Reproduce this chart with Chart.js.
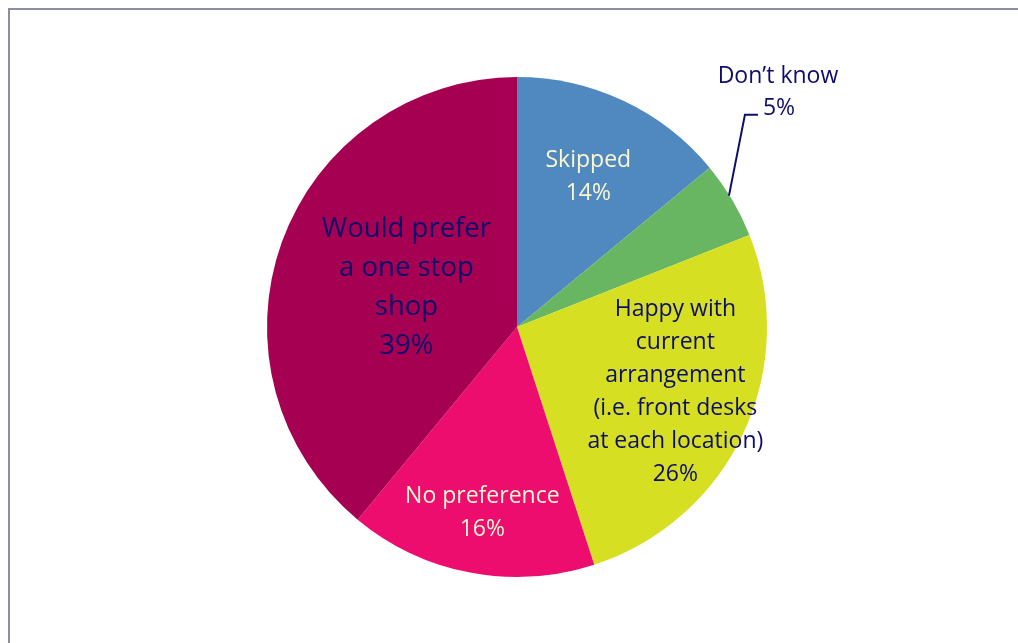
<!DOCTYPE html>
<html>
<head>
<meta charset="utf-8">
<script src="https://cdn.jsdelivr.net/npm/chart.js@4.4.1/dist/chart.umd.min.js"></script>
<style>
  html, body { margin: 0; padding: 0; background: #ffffff; }
  #wrap { width: 1018px; height: 643px; position: relative; }
</style>
</head>
<body>
<div id="wrap"><canvas id="pie" width="1018" height="643"></canvas></div>
<script>
// Survey responses: preferred front-desk arrangement
const categories = [
  'Skipped',
  'Don\u2019t know',
  'Happy with current arrangement (i.e. front desks at each location)',
  'No preference',
  'Would prefer a one stop shop'
];
const shares = [14, 5, 26, 16, 39];
const labelLines = [
  ['Skipped'],
  ['Don\u2019t know'],
  ['Happy with', 'current', 'arrangement', '(i.e. front desks', 'at each location)'],
  ['No preference'],
  ['Would prefer', 'a one stop', 'shop']
];
const sliceColors = ['#4F89C0', '#69B662', '#D7DF23', '#EC0D6F', '#A50052'];

// Label placement: radial fraction of the pie radius, plus styling
const labelStyle = [
  { r: 0.67, dy: 2, size: 23, color: '#FCF7CF', lh: 33 },
  { outside: true, size: 23, color: '#0D0D6B', lh: 32 },
  { r: 0.70, dy: -10, size: 23, color: '#0D0D6B', lh: 33 },
  { r: 0.74, dy: 4, size: 23, color: '#FCF7CF', lh: 33 },
  { r: 0.47, size: 27.5, color: '#0D0D6B', lh: 39 }
];

const FONT = '"Open Sans", "Noto Sans", sans-serif';

const framePlugin = {
  id: 'frame',
  beforeDraw(chart) {
    const ctx = chart.ctx;
    ctx.save();
    ctx.fillStyle = '#ffffff';
    ctx.fillRect(0, 0, chart.width, chart.height);
    ctx.strokeStyle = '#8C8CA4';
    ctx.lineWidth = 2;
    ctx.beginPath();
    ctx.moveTo(9, chart.height);
    ctx.lineTo(9, 9);
    ctx.lineTo(chart.width, 9);
    ctx.stroke();
    ctx.restore();
  }
};

const sliceLabels = {
  id: 'sliceLabels',
  afterDatasetsDraw(chart) {
    const ctx = chart.ctx;
    const meta = chart.getDatasetMeta(0);
    ctx.save();
    ctx.textAlign = 'center';
    ctx.textBaseline = 'middle';
    meta.data.forEach((arc, i) => {
      const st = labelStyle[i];
      const p = arc.getProps(['x', 'y', 'startAngle', 'endAngle', 'outerRadius'], true);
      const mid = (p.startAngle + p.endAngle) / 2;
      const lines = labelLines[i].concat([shares[i] + '%']);
      ctx.font = st.size + 'px ' + FONT;
      ctx.fillStyle = st.color;
      if (st.outside) {
        // leader line from slice edge up to the label
        const ex = p.x + Math.cos(mid) * p.outerRadius * 0.985;
        const ey = p.y + Math.sin(mid) * p.outerRadius * 0.985 - 6;
        const kx = ex + 16, ky = ey - 81;
        ctx.strokeStyle = st.color;
        ctx.lineWidth = 2;
        ctx.beginPath();
        ctx.moveTo(ex, ey);
        ctx.lineTo(kx, ky);
        ctx.lineTo(kx + 13, ky);
        ctx.stroke();
        ctx.fillText(lines[0], kx + 33, ky - 38);
        ctx.fillText(lines[1], kx + 34, ky - 6);
        return;
      }
      const cx = p.x + Math.cos(mid) * p.outerRadius * st.r;
      const cy = p.y + Math.sin(mid) * p.outerRadius * st.r + (st.dy || 0);
      const top = cy - (lines.length - 1) * st.lh / 2;
      lines.forEach((t, k) => ctx.fillText(t, cx, top + k * st.lh));
    });
    ctx.restore();
  }
};

new Chart(document.getElementById('pie'), {
  type: 'pie',
  data: {
    labels: categories,
    datasets: [{
      data: shares,
      backgroundColor: sliceColors,
      borderWidth: 0
    }]
  },
  options: {
    responsive: false,
    animation: false,
    layout: { padding: { top: 77, bottom: 66, left: 200, right: 184 } },
    plugins: {
      legend: { display: false },
      tooltip: { enabled: false }
    }
  },
  plugins: [framePlugin, sliceLabels]
});
</script>
</body>
</html>
